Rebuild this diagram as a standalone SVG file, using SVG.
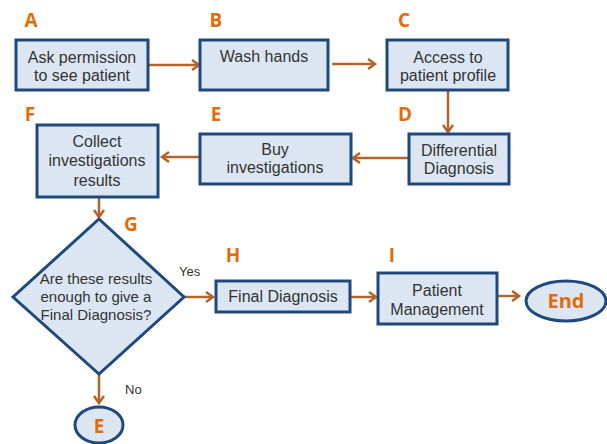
<svg xmlns="http://www.w3.org/2000/svg" width="607" height="444" viewBox="0 0 607 444">
<style>
.box{fill:#DCE6F2;stroke:#1F497D;stroke-width:3}
.t{font-family:"Liberation Sans",Arial,sans-serif;font-size:16px;fill:#333;text-anchor:middle}
.lbl{font-family:"Open Sans","Liberation Sans",sans-serif;font-weight:bold;font-size:19px;fill:#E36C09;text-anchor:middle}
.c{stroke:#B4642A;stroke-width:2.5;fill:none;marker-end:url(#ah)}
.s{font-family:"Liberation Sans",Arial,sans-serif;font-size:13px;fill:#333}
</style>
<defs>
<marker id="ah" markerWidth="12" markerHeight="12" refX="9" refY="6" orient="auto" markerUnits="userSpaceOnUse">
<polyline points="2,1 9,6 2,11" fill="none" stroke="#B4642A" stroke-width="2.5"/>
</marker>
</defs>
<g id="connectors">
<line class="c" x1="148" y1="65" x2="199" y2="65"/>
<line class="c" x1="332" y1="64" x2="375" y2="64"/>
<line class="c" x1="448" y1="90" x2="448" y2="132"/>
<line class="c" x1="409" y1="158" x2="353" y2="158"/>
<line class="c" x1="200" y1="157" x2="162" y2="157"/>
<line class="c" x1="99" y1="197" x2="99" y2="217"/>
<line class="c" x1="184" y1="297" x2="213" y2="297"/>
<line class="c" x1="350" y1="297" x2="376" y2="297"/>
<line class="c" x1="497" y1="296" x2="519" y2="296"/>
<line class="c" x1="99" y1="374" x2="99" y2="403"/>
<text class="s" x="179" y="276">Yes</text>
<text class="s" x="125" y="394">No</text>
</g>
<g id="A"><text class="lbl" x="31" y="27">A</text><rect class="box" x="16" y="40" width="132" height="50"/><text class="t" x="82" y="63">Ask permission</text><text class="t" x="82" y="81">to see patient</text></g>
<g id="B"><text class="lbl" x="216" y="27">B</text><rect class="box" x="200" y="40" width="128" height="50"/><text class="t" x="264" y="62">Wash hands</text></g>
<g id="C"><text class="lbl" x="404" y="27">C</text><rect class="box" x="387" y="40" width="121" height="50"/><text class="t" x="448" y="63">Access to</text><text class="t" x="448" y="81">patient profile</text></g>
<g id="D"><text class="lbl" x="405" y="121">D</text><rect class="box" x="409" y="134" width="100" height="50"/><text class="t" x="459" y="156">Differential</text><text class="t" x="459" y="174">Diagnosis</text></g>
<g id="E"><text class="lbl" x="216" y="121">E</text><rect class="box" x="200" y="134" width="151" height="50"/><text class="t" x="275" y="155">Buy</text><text class="t" x="275" y="173">investigations</text></g>
<g id="F"><text class="lbl" x="30" y="121">F</text><rect class="box" x="37" y="125" width="121" height="72"/><text class="t" x="97" y="147">Collect</text><text class="t" x="97" y="166">investigations</text><text class="t" x="97" y="186">results</text></g>
<g id="G"><text class="lbl" x="131" y="231">G</text><polygon class="box" points="99,219 184,297 99,374 13,297"/><text class="t" x="96" y="284" style="font-size:15px">Are these results</text><text class="t" x="96" y="302" style="font-size:15px">enough to give a</text><text class="t" x="96" y="320" style="font-size:15px">Final Diagnosis?</text></g>
<g id="H"><text class="lbl" x="233" y="262">H</text><rect class="box" x="216" y="281" width="134" height="31"/><text class="t" x="283" y="302">Final Diagnosis</text></g>
<g id="I"><text class="lbl" x="392" y="262">I</text><rect class="box" x="378" y="273" width="119" height="51"/><text class="t" x="437" y="296">Patient</text><text class="t" x="437" y="315">Management</text></g>
<g id="End"><ellipse class="box" cx="566" cy="301" rx="40" ry="20"/><text class="lbl" x="566" y="308" style="font-size:20px">End</text></g>
<g id="E2"><ellipse class="box" cx="99" cy="425" rx="24" ry="18"/><text class="lbl" x="99" y="433">E</text></g>
</svg>
